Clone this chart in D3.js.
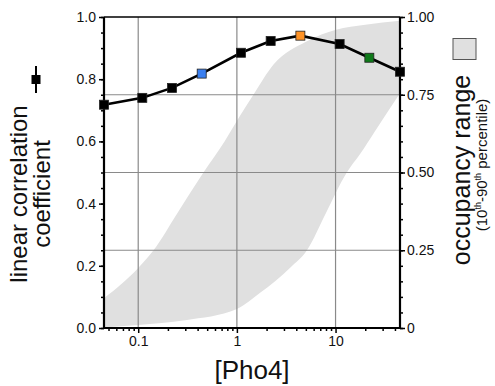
<!DOCTYPE html>
<html>
<head>
<meta charset="utf-8">
<script src="https://d3js.org/d3.v7.min.js"></script>
<style>
  body { margin: 0; background: #fff; }
  svg { font-family: "Liberation Sans", Arial, sans-serif; }
</style>
</head>
<body>
<div id="chart"></div>
<script>
// Pho4 concentrations and correlation values
const pho4 = [0.045, 0.11, 0.22, 0.44, 1.1, 2.2, 4.4, 11, 22, 45];
const corr = [0.718, 0.740, 0.772, 0.818, 0.885, 0.923, 0.940, 0.913, 0.869, 0.824];
const markerColors = ["#000", "#000", "#000", "#3a7ff0", "#000", "#000", "#ff9326", "#000", "#0f7a1a", "#000"];

// occupancy band (right axis): 90th percentile (upper) and 10th percentile (lower)
const upperX = [0.045, 0.1, 0.143, 0.25, 0.458, 0.75, 1.08, 1.47, 2.35, 5.13, 10.1, 20, 45];
const upperY = [0.096, 0.193, 0.25, 0.37, 0.5, 0.6, 0.683, 0.75, 0.847, 0.922, 0.959, 0.975, 0.988];
const lowerX = [0.045, 0.1, 0.3, 1, 1.72, 3.47, 5.13, 8, 13, 17.8, 25, 45];
const lowerY = [0.002, 0.01, 0.025, 0.061, 0.113, 0.194, 0.25, 0.37, 0.5, 0.56, 0.632, 0.755];

const leftTicks = [0, 0.2, 0.4, 0.6, 0.8, 1.0];
const rightTicks = [0, 0.25, 0.5, 0.75, 1.0];
const rightTickLabels = ["0", "0.25", "0.50", "0.75", "1.00"];
const xTicks = [0.1, 1, 10];

const width = 495, height = 386;
const m = {left: 104, right: 400, top: 17, bottom: 328};
const font = "Liberation Sans, Arial, sans-serif";

const svg = d3.select("#chart").append("svg")
    .attr("width", width).attr("height", height);

const x = d3.scaleLog().domain([0.045, 45]).range([m.left, m.right]);
const yL = d3.scaleLinear().domain([0, 1]).range([m.bottom, m.top]);
const yR = d3.scaleLinear().domain([0, 1]).range([m.bottom, m.top]);

// band: area above lower curve, clipped to area below upper curve
const upper = upperX.map((d, i) => [d, upperY[i]]);
const lower = lowerX.map((d, i) => [d, lowerY[i]]);
svg.append("clipPath").attr("id", "upclip").append("path")
    .attr("d", d3.area().x(d => x(d[0])).y0(m.bottom).y1(d => yR(d[1])).curve(d3.curveMonotoneX)(upper));
svg.append("g").attr("clip-path", "url(#upclip)")
  .append("path")
    .attr("d", d3.area().x(d => x(d[0])).y0(m.top).y1(d => yR(d[1])).curve(d3.curveMonotoneX)(lower))
    .attr("fill", "#e0e0e0");

// gridlines
const grid = svg.append("g").attr("stroke", "#8a8a8a").attr("stroke-width", 1.2);
xTicks.forEach(t => grid.append("line")
    .attr("x1", x(t)).attr("x2", x(t)).attr("y1", m.top).attr("y2", m.bottom));
[0.25, 0.5, 0.75].forEach(t => grid.append("line")
    .attr("x1", m.left).attr("x2", m.right).attr("y1", yR(t)).attr("y2", yR(t)));

// axes
const minorY = d3.range(0, 1.0001, 0.05);
const styleAxis = (g, fs) => {
  g.select(".domain").remove();
  g.selectAll(".tick line").attr("stroke-width", 1.5);
  g.selectAll("text").attr("font-size", fs).attr("fill", "#111").attr("font-family", font);
};
svg.append("g").attr("transform", `translate(${m.left},0)`)
    .call(d3.axisLeft(yL).tickValues(minorY).tickSize(3).tickFormat(""))
    .call(styleAxis, 14);
svg.append("g").attr("transform", `translate(${m.left},0)`)
    .call(d3.axisLeft(yL).tickValues(leftTicks).tickSize(5).tickPadding(3).tickFormat(d3.format(".1f")))
    .call(styleAxis, 14);

svg.append("g").attr("transform", `translate(${m.right},0)`)
    .call(d3.axisRight(yR).tickValues(minorY).tickSize(3).tickFormat(""))
    .call(styleAxis, 14);
svg.append("g").attr("transform", `translate(${m.right},0)`)
    .call(d3.axisRight(yR).tickValues(rightTicks).tickSize(5).tickPadding(2)
      .tickFormat((d, i) => rightTickLabels[i]))
    .call(styleAxis, 14);

const minorX = [];
[0.01, 0.1, 1, 10].forEach(dec => d3.range(2, 10).forEach(k => {
  const v = dec * k;
  if (v >= 0.045 && v <= 45) minorX.push(v);
}));
svg.append("g").attr("transform", `translate(0,${m.bottom})`)
    .call(d3.axisBottom(x).tickValues(minorX).tickSize(3).tickFormat(""))
    .call(styleAxis, 14);
svg.append("g").attr("transform", `translate(0,${m.bottom})`)
    .call(d3.axisBottom(x).tickValues(xTicks).tickSize(5).tickPadding(3).tickFormat(d3.format("")))
    .call(styleAxis, 14);

// frame
const frame = svg.append("g").attr("stroke", "#000");
frame.append("line").attr("x1", m.left).attr("x2", m.left).attr("y1", m.top).attr("y2", m.bottom + 1).attr("stroke-width", 2.2);
frame.append("line").attr("x1", m.right).attr("x2", m.right).attr("y1", m.top).attr("y2", m.bottom + 1).attr("stroke-width", 2.2);
frame.append("line").attr("x1", m.left).attr("x2", m.right).attr("y1", m.bottom).attr("y2", m.bottom).attr("stroke-width", 2.2);
frame.append("line").attr("x1", m.left).attr("x2", m.right).attr("y1", m.top).attr("y2", m.top).attr("stroke-width", 1.6);

// correlation line + markers
const pts = pho4.map((d, i) => [d, corr[i]]);
svg.append("path")
    .attr("d", d3.line().x(d => x(d[0])).y(d => yL(d[1]))(pts))
    .attr("fill", "none").attr("stroke", "#000").attr("stroke-width", 2.6);
const s = 9;
svg.append("g").selectAll("rect").data(pts).join("rect")
    .attr("x", d => x(d[0]) - s / 2).attr("y", d => yL(d[1]) - s / 2)
    .attr("width", s).attr("height", s)
    .attr("fill", (d, i) => markerColors[i])
    .attr("stroke", "#222").attr("stroke-width", 0.8);

// x title
svg.append("text").attr("x", 252).attr("y", 379).attr("text-anchor", "middle")
    .attr("font-size", 26).attr("fill", "#111").text("[Pho4]");

// left title
const lt = svg.append("g").attr("transform", "translate(0,194) rotate(-90)");
lt.append("text").attr("x", 0).attr("y", 27).attr("text-anchor", "middle")
    .attr("font-size", 24).attr("fill", "#111").text("linear correlation");
lt.append("text").attr("x", 0).attr("y", 50).attr("text-anchor", "middle")
    .attr("font-size", 24).attr("fill", "#111").text("coefficient");

// legend marker for correlation
svg.append("line").attr("x1", 36).attr("x2", 36).attr("y1", 66).attr("y2", 93)
    .attr("stroke", "#000").attr("stroke-width", 2);
svg.append("rect").attr("x", 31.5).attr("y", 75).attr("width", 9).attr("height", 9).attr("fill", "#000");

// right legend
svg.append("rect").attr("x", 453).attr("y", 38.5).attr("width", 23).attr("height", 21)
    .attr("fill", "#e0e0e0").attr("stroke", "#555").attr("stroke-width", 1);
const rt = svg.append("g").attr("transform", "translate(0,170) rotate(-90)");
rt.append("text").attr("x", 0).attr("y", 470).attr("text-anchor", "middle")
    .attr("font-size", 25).attr("fill", "#111").text("occupancy range");
const sub = rt.append("text").attr("x", 5).attr("y", 487).attr("text-anchor", "middle")
    .attr("font-size", 15).attr("fill", "#111");
sub.append("tspan").text("(10");
sub.append("tspan").attr("font-size", 9).attr("dy", -6).text("th");
sub.append("tspan").attr("dy", 6).text("-90");
sub.append("tspan").attr("font-size", 9).attr("dy", -6).text("th");
sub.append("tspan").attr("dy", 6).text(" percentile)");
</script>
</body>
</html>
